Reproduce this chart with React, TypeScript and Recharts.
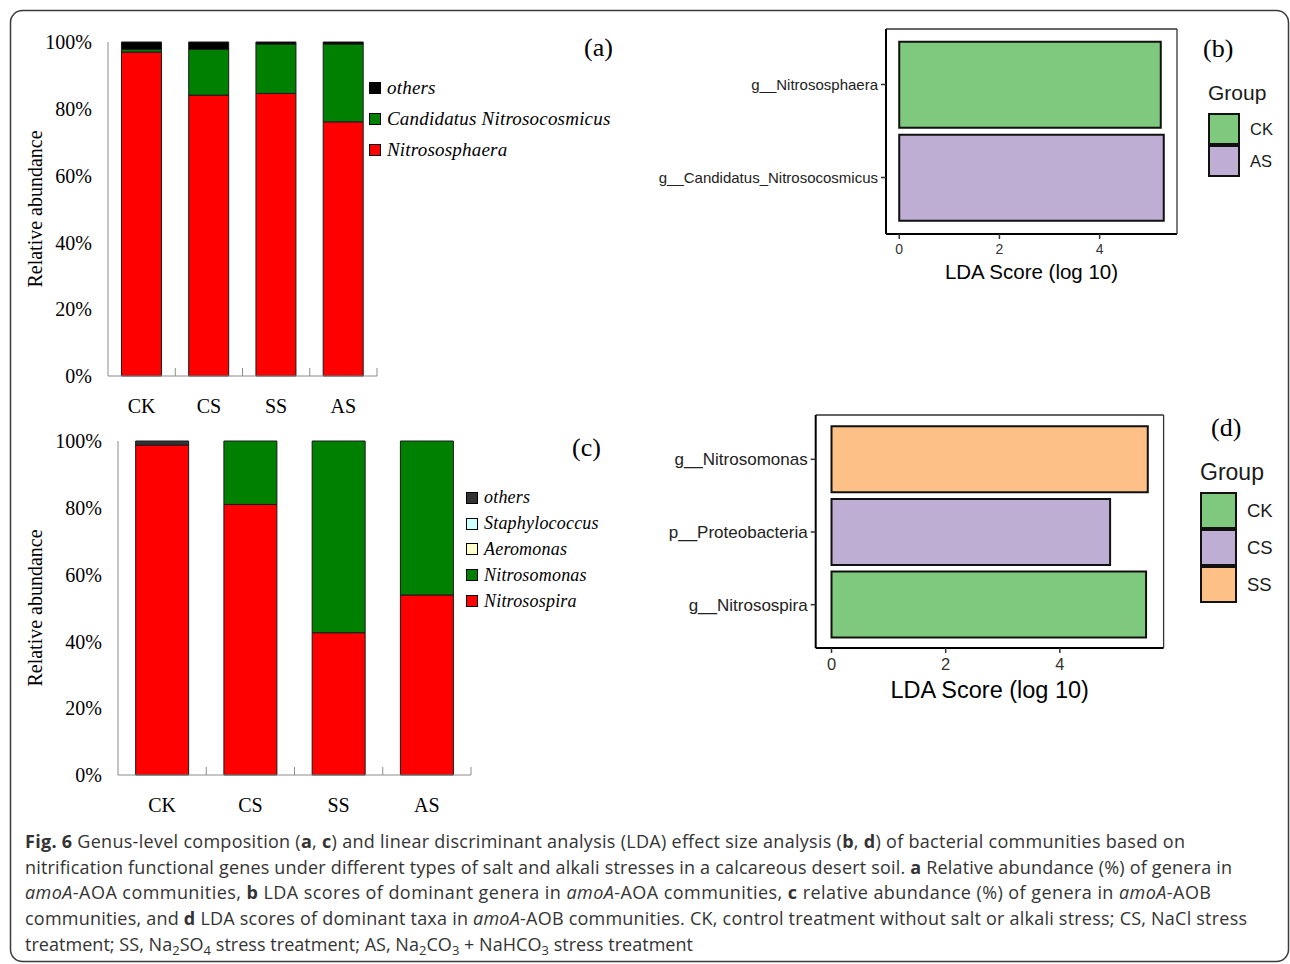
import React from 'react';
import { BarChart, Bar, XAxis, YAxis, Legend, Cell } from 'recharts';

// treatments
const groups = ['CK', 'CS', 'SS', 'AS'];

// (a) amoA-AOA genera, relative abundance (%)
const aoaNitrososphaera = [97.0, 84.1, 84.6, 76.1];
const aoaCandidatus = [0.8, 13.7, 14.8, 23.3];
const aoaOthers = [2.2, 2.2, 0.6, 0.6];

// (c) amoA-AOB genera, relative abundance (%)
const aobNitrosospira = [98.8, 81.0, 42.6, 53.9];
const aobNitrosomonas = [0.0, 19.0, 57.4, 46.1];
const aobAeromonas = [0, 0, 0, 0];
const aobStaphylococcus = [0, 0, 0, 0];
const aobOthers = [1.2, 0, 0, 0];

const percentTicks = [0, 20, 40, 60, 80, 100];

// (b) LDA, amoA-AOA
const aoaLdaTaxa = ['g__Nitrososphaera', 'g__Candidatus_Nitrosocosmicus'];
const aoaLdaScores = [5.22, 5.28];
const aoaLdaGroups = ['CK', 'AS'];
const aoaLegend = ['CK', 'AS'];

// (d) LDA, amoA-AOB
const aobLdaTaxa = ['g__Nitrosomonas', 'p__Proteobacteria', 'g__Nitrosospira'];
const aobLdaScores = [5.54, 4.88, 5.51];
const aobLdaGroups = ['SS', 'CS', 'CK'];
const aobLegend = ['CK', 'CS', 'SS'];

const ldaTicks = [0, 2, 4];

const groupColors: Record<string, string> = {
  CK: '#7fc97f',
  CS: '#beaed4',
  AS: '#beaed4',
  SS: '#fdc086',
};

const SERIF = '"Liberation Serif", "Times New Roman", serif';
const SANS = '"Liberation Sans", Arial, sans-serif';
const AXIS_GREY = '#8c8c8c';

type Series = { key: string; name: string; values: number[]; color: string };

const aoaSeries: Series[] = [
  { key: 'nitrososphaera', name: 'Nitrososphaera', values: aoaNitrososphaera, color: '#ff0000' },
  { key: 'candidatus', name: 'Candidatus Nitrosocosmicus', values: aoaCandidatus, color: '#008000' },
  { key: 'others', name: 'others', values: aoaOthers, color: '#000000' },
];

const aobSeries: Series[] = [
  { key: 'nitrosospira', name: 'Nitrosospira', values: aobNitrosospira, color: '#ff0000' },
  { key: 'nitrosomonas', name: 'Nitrosomonas', values: aobNitrosomonas, color: '#008000' },
  { key: 'aeromonas', name: 'Aeromonas', values: aobAeromonas, color: '#ffffcc' },
  { key: 'staphylococcus', name: 'Staphylococcus', values: aobStaphylococcus, color: '#ccffff' },
  { key: 'others', name: 'others', values: aobOthers, color: '#333333' },
];

function StackLegend({ series, rowHeight, fontSize }: { series: Series[]; rowHeight: number; fontSize: number }) {
  return (
    <div>
      {[...series].reverse().map((s) => (
        <div key={s.key} style={{ height: rowHeight, display: 'flex', alignItems: 'center' }}>
          <span
            style={{
              width: 10,
              height: 10,
              background: s.color,
              border: '1px solid #000',
              marginRight: 6,
              flex: 'none',
            }}
          />
          <span
            style={{
              fontFamily: SERIF,
              fontStyle: 'italic',
              fontSize,
              letterSpacing: 0.2,
              color: '#000',
              whiteSpace: 'nowrap',
            }}
          >
            {s.name}
          </span>
        </div>
      ))}
    </div>
  );
}

const TICK_LIFT = 23; // tickSize + tickMargin of the treatment axis

// treatment label, plus the small inward tick at the right edge of its band
function makeGroupTick(halfBand: number) {
  return function GroupTick(tp: any) {
    const { x, y, payload } = tp;
    const axisY = y - TICK_LIFT;
    return (
      <g>
        <text x={x} y={y} dy="0.71em" textAnchor="middle" fontFamily={SERIF} fontSize={20} fill="#000">
          {payload.value}
        </text>
        <line x1={x + halfBand} x2={x + halfBand} y1={axisY} y2={axisY - 8} stroke={AXIS_GREY} />
      </g>
    );
  };
}

function StackedPanel(props: {
  series: Series[];
  left: number;
  top: number;
  width: number;
  height: number;
  margin: { top: number; right: number; bottom: number; left: number };
  yAxisWidth: number;
  legendPos: { left: number; top: number };
  rowHeight: number;
  legendFont: number;
  tag: string;
  tagPos: { left: number; top: number };
}) {
  const { series, left, top, width, height, margin, yAxisWidth, legendPos, rowHeight, legendFont, tag, tagPos } = props;
  const data = groups.map((g, i) => {
    const row: Record<string, string | number> = { group: g };
    series.forEach((s) => {
      row[s.key] = s.values[i];
    });
    return row;
  });
  const plotWidth = width - margin.left - margin.right - yAxisWidth;
  const halfBand = plotWidth / groups.length / 2;
  return (
    <div style={{ position: 'absolute', left, top, width, height }}>
      <BarChart width={width} height={height} data={data} margin={margin} barCategoryGap="20%">
        <XAxis
          dataKey="group"
          height={40}
          tickLine={false}
          tickSize={6}
          tickMargin={17}
          axisLine={{ stroke: AXIS_GREY }}
          tick={makeGroupTick(halfBand)}
        />
        <YAxis
          domain={[0, 100]}
          ticks={percentTicks}
          tickFormatter={(v) => `${v}%`}
          width={yAxisWidth}
          tickLine={false}
          tickMargin={10}
          axisLine={{ stroke: AXIS_GREY }}
          tick={{ fontFamily: SERIF, fontSize: 20, fill: '#000' }}
          label={{
            value: 'Relative abundance',
            angle: -90,
            position: 'insideLeft',
            offset: 2,
            style: { textAnchor: 'middle', fontFamily: SERIF, fontSize: 20, fill: '#000' },
          }}
        />
        {series.map((s) => (
          <Bar
            key={s.key}
            dataKey={s.key}
            name={s.name}
            stackId="abundance"
            fill={s.color}
            stroke="#1a1a1a"
            strokeWidth={1}
            isAnimationActive={false}
          />
        ))}
        <Legend
          layout="vertical"
          align="center"
          verticalAlign="middle"
          wrapperStyle={{ left: legendPos.left, top: legendPos.top, width: 'auto' }}
          content={() => <StackLegend series={series} rowHeight={rowHeight} fontSize={legendFont} />}
        />
      </BarChart>
      <div
        style={{
          position: 'absolute',
          left: tagPos.left,
          top: tagPos.top,
          fontFamily: SERIF,
          fontSize: 26,
          lineHeight: '30px',
          color: '#000',
        }}
      >
        {tag}
      </div>
    </div>
  );
}

function GroupLegend(props: { items: string[]; titleSize: number; labelSize: number; keySize: number; gap: number }) {
  const { items, titleSize, labelSize, keySize, gap } = props;
  return (
    <div style={{ fontFamily: SANS, color: '#1a1a1a' }}>
      <div style={{ fontSize: titleSize, lineHeight: `${titleSize + 4}px`, marginBottom: gap }}>Group</div>
      {items.map((g) => (
        <div key={g} style={{ display: 'flex', alignItems: 'center', height: keySize }}>
          <span
            style={{
              width: keySize - 4,
              height: keySize - 4,
              background: groupColors[g],
              border: '2px solid #111',
              flex: 'none',
              marginRight: 10,
            }}
          />
          <span style={{ fontSize: labelSize }}>{g}</span>
        </div>
      ))}
    </div>
  );
}

function LdaPanel(props: {
  taxa: string[];
  scores: number[];
  groupOf: string[];
  legendItems: string[];
  left: number;
  top: number;
  width: number;
  height: number;
  margin: { top: number; right: number; bottom: number; left: number };
  yAxisWidth: number;
  xAxisHeight: number;
  padding: { top: number; bottom: number };
  gap: string;
  tickFont: number;
  xTickFont: number;
  titleFont: number;
  legendPos: { left: number; top: number };
  legendTitle: number;
  legendLabel: number;
  legendKey: number;
  legendGap: number;
  tag: string;
  tagPos: { left: number; top: number };
}) {
  const p = props;
  const data = p.taxa.map((t, i) => ({ taxon: t, score: p.scores[i], group: p.groupOf[i] }));
  const max = Math.max(...p.scores);
  const domain = [-max * 0.05, max * 1.05];
  return (
    <div style={{ position: 'absolute', left: p.left, top: p.top, width: p.width, height: p.height }}>
      <BarChart
        layout="vertical"
        width={p.width}
        height={p.height}
        data={data}
        margin={p.margin}
        barCategoryGap={p.gap}
      >
        <XAxis
          type="number"
          domain={domain}
          allowDataOverflow
          ticks={ldaTicks}
          height={p.xAxisHeight}
          tickSize={5}
          tickMargin={5}
          axisLine={{ stroke: '#000', strokeWidth: 2 }}
          tickLine={{ stroke: '#333', strokeWidth: 1.5 }}
          tick={{ fontFamily: SANS, fontSize: p.xTickFont, fill: '#333' }}
          label={{
            value: 'LDA Score (log 10)',
            position: 'insideBottom',
            offset: 5,
            style: { fontFamily: SANS, fontSize: p.titleFont, fill: '#000' },
          }}
        />
        {/* panel border: top and right */}
        <XAxis
          xAxisId="top"
          orientation="top"
          type="number"
          domain={domain}
          allowDataOverflow
          height={1}
          tick={false}
          tickLine={false}
          axisLine={{ stroke: '#333', strokeWidth: 1.3 }}
        />
        <YAxis
          type="category"
          dataKey="taxon"
          width={p.yAxisWidth}
          padding={p.padding}
          tickSize={5}
          tickMargin={3}
          axisLine={{ stroke: '#000', strokeWidth: 2 }}
          tickLine={{ stroke: '#333', strokeWidth: 1.5 }}
          tick={{ fontFamily: SANS, fontSize: p.tickFont, fill: '#222' }}
        />
        <YAxis
          yAxisId="right"
          orientation="right"
          type="category"
          dataKey="taxon"
          width={1}
          tick={false}
          tickLine={false}
          axisLine={{ stroke: '#333', strokeWidth: 1.3 }}
        />
        <Bar dataKey="score" stroke="#111" strokeWidth={2} isAnimationActive={false}>
          {data.map((d) => (
            <Cell key={d.taxon} fill={groupColors[d.group]} />
          ))}
        </Bar>
        <Legend
          layout="vertical"
          align="center"
          verticalAlign="middle"
          wrapperStyle={{ left: p.legendPos.left, top: p.legendPos.top, width: 'auto' }}
          content={() => (
            <GroupLegend
              items={p.legendItems}
              titleSize={p.legendTitle}
              labelSize={p.legendLabel}
              keySize={p.legendKey}
              gap={p.legendGap}
            />
          )}
        />
      </BarChart>
      <div
        style={{
          position: 'absolute',
          left: p.tagPos.left,
          top: p.tagPos.top,
          fontFamily: SERIF,
          fontSize: 26,
          lineHeight: '30px',
          color: '#000',
        }}
      >
        {p.tag}
      </div>
    </div>
  );
}

// caption line with chemical subscripts: [text, isSubscript]
const captionLast: [string, boolean][] = [
  ['treatment; SS, Na', false],
  ['2', true],
  ['SO', false],
  ['4', true],
  [' stress treatment; AS, Na', false],
  ['2', true],
  ['CO', false],
  ['3', true],
  [' + NaHCO', false],
  ['3', true],
  [' stress treatment', false],
];

function Caption() {
  const b = { fontWeight: 700 } as const;
  const it = { fontStyle: 'italic' } as const;
  const x = 25;
  return (
    <g fontFamily='"Open Sans", sans-serif' fontSize={18} fill="#333" style={{ whiteSpace: 'pre' }}>
      <text x={x} y={848} textLength={1160} lengthAdjust="spacing">
        <tspan style={b}>Fig. 6</tspan> Genus-level composition (<tspan style={b}>a</tspan>,{' '}
        <tspan style={b}>c</tspan>) and linear discriminant analysis (LDA) effect size analysis (
        <tspan style={b}>b</tspan>, <tspan style={b}>d</tspan>) of bacterial communities based on
      </text>
      <text x={x} y={874} textLength={1207} lengthAdjust="spacing">
        nitrification functional genes under different types of salt and alkali stresses in a calcareous desert soil.{' '}
        <tspan style={b}>a</tspan> Relative abundance (%) of genera in
      </text>
      <text x={x} y={899} textLength={1186} lengthAdjust="spacing">
        <tspan style={it}>amoA</tspan>-AOA communities, <tspan style={b}>b</tspan> LDA scores of dominant genera in{' '}
        <tspan style={it}>amoA</tspan>-AOA communities, <tspan style={b}>c</tspan> relative abundance (%) of genera in{' '}
        <tspan style={it}>amoA</tspan>-AOB
      </text>
      <text x={x} y={925} textLength={1222} lengthAdjust="spacing">
        communities, and <tspan style={b}>d</tspan> LDA scores of dominant taxa in <tspan style={it}>amoA</tspan>-AOB
        communities. CK, control treatment without salt or alkali stress; CS, NaCl stress
      </text>
      <text x={x} y={951} textLength={668} lengthAdjust="spacing">
        {captionLast.map(([s, isSub], i) => {
          const prevSub = i > 0 && captionLast[i - 1][1];
          const dy = isSub ? 4 : prevSub ? -4 : 0;
          return (
            <tspan key={i} dy={dy} fontSize={isSub ? 13 : 18}>
              {s}
            </tspan>
          );
        })}
      </text>
    </g>
  );
}

export default function App() {
  return (
    <div style={{ position: 'absolute', left: 0, top: 0, width: 1290, height: 964, background: '#fff' }}>
      <svg width={1290} height={964} style={{ position: 'absolute', left: 0, top: 0 }}>
        <rect x={10.5} y={10.5} width={1278} height={951} rx={12} fill="none" stroke="#3a3a3a" strokeWidth={1.5} />
        <Caption />
      </svg>

      <StackedPanel
        series={aoaSeries}
        left={0}
        top={0}
        width={640}
        height={430}
        margin={{ top: 42, right: 263, bottom: 14, left: 33 }}
        yAxisWidth={75}
        legendPos={{ left: 369, top: 72 }}
        rowHeight={31}
        legendFont={19}
        tag="(a)"
        tagPos={{ left: 584, top: 33 }}
      />

      <StackedPanel
        series={aobSeries}
        left={0}
        top={420}
        width={640}
        height={420}
        margin={{ top: 21, right: 169, bottom: 25, left: 33 }}
        yAxisWidth={85}
        legendPos={{ left: 466, top: 65 }}
        rowHeight={25.8}
        legendFont={18}
        tag="(c)"
        tagPos={{ left: 572, top: 13 }}
      />

      <LdaPanel
        taxa={aoaLdaTaxa}
        scores={aoaLdaScores}
        groupOf={aoaLdaGroups}
        legendItems={aoaLegend}
        left={640}
        top={0}
        width={650}
        height={300}
        margin={{ top: 28, right: 112, bottom: 16, left: 6 }}
        yAxisWidth={240}
        xAxisHeight={50}
        padding={{ top: 9, bottom: 10 }}
        gap="4%"
        tickFont={15}
        xTickFont={14}
        titleFont={20.5}
        legendPos={{ left: 568, top: 80 }}
        legendTitle={21}
        legendLabel={16.5}
        legendKey={32}
        legendGap={8}
        tag="(b)"
        tagPos={{ left: 563, top: 34 }}
      />

      <LdaPanel
        taxa={aobLdaTaxa}
        scores={aobLdaScores}
        groupOf={aobLdaGroups}
        legendItems={aobLegend}
        left={640}
        top={400}
        width={650}
        height={320}
        margin={{ top: 14, right: 125.4, bottom: 17, left: 5.7 }}
        yAxisWidth={170}
        xAxisHeight={55}
        padding={{ top: 8, bottom: 7 }}
        gap="4.5%"
        tickFont={17}
        xTickFont={16.5}
        titleFont={23.5}
        legendPos={{ left: 560, top: 59 }}
        legendTitle={23}
        legendLabel={18.5}
        legendKey={37}
        legendGap={6}
        tag="(d)"
        tagPos={{ left: 571, top: 13 }}
      />
    </div>
  );
}
